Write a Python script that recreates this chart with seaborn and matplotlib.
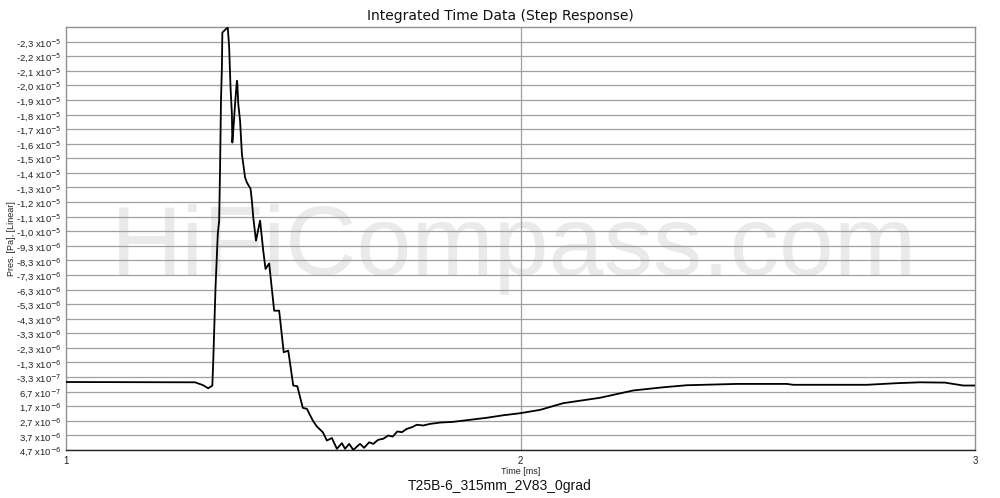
import numpy as np
import pandas as pd
import matplotlib
matplotlib.use("Agg")
import matplotlib.pyplot as plt
import seaborn as sns

# time in ms, pressure in units of 1e-6 Pa (axis is drawn inverted, like the original)
time_ms = [1.000, 1.284, 1.301, 1.313, 1.322, 1.324, 1.329, 1.334, 1.337, 1.339,
           1.340, 1.341, 1.343, 1.344, 1.354, 1.356, 1.359, 1.362, 1.365, 1.366,
           1.368, 1.372, 1.376, 1.377, 1.379, 1.383, 1.387, 1.394, 1.398, 1.406,
           1.409, 1.412, 1.418, 1.427, 1.434, 1.439, 1.447, 1.458, 1.469, 1.479,
           1.489, 1.500, 1.509, 1.521, 1.530, 1.543, 1.552, 1.565, 1.574, 1.585,
           1.596, 1.607, 1.614, 1.623, 1.632, 1.647, 1.656, 1.667, 1.676, 1.687,
           1.698, 1.709, 1.719, 1.729, 1.739, 1.750, 1.761, 1.772, 1.786, 1.801,
           1.823, 1.852, 1.889, 1.926, 1.962, 1.999, 2.043, 2.094, 2.175, 2.248,
           2.314, 2.366, 2.476, 2.586, 2.600, 2.762, 2.828, 2.879, 2.934, 2.974,
           3.000]
pressure = [0.34, 0.36, 0.55, 0.77, 0.58, -1.13, -6.15, -9.83, -10.72, -14.37,
            -16.66, -18.94, -21.22, -23.62, -23.92, -23.94, -22.59, -19.85, -18.05, -16.08,
            -16.88, -18.73, -20.31, -20.10, -18.73, -17.57, -15.31, -13.68, -13.34, -12.91,
            -12.09, -10.95, -9.35, -10.72, -8.66, -7.41, -7.79, -4.55, -4.55, -1.70,
            -1.81, 0.58, 0.63, 2.11, 2.18, 2.98, 3.39, 3.78, 4.35, 4.18,
            4.92, 4.53, 4.92, 4.58, 4.99, 4.58, 4.85, 4.47, 4.58, 4.30,
            4.23, 4.01, 4.08, 3.73, 3.78, 3.55, 3.44, 3.27, 3.32, 3.21,
            3.12, 3.07, 2.93, 2.79, 2.62, 2.48, 2.25, 1.79, 1.42, 0.92,
            0.70, 0.56, 0.47, 0.47, 0.53, 0.53, 0.42, 0.36, 0.38, 0.58,
            0.58]

y_ticks = list(range(-23, 6))
y_mant = ["-2,3", "-2,2", "-2,1", "-2,0", "-1,9", "-1,8", "-1,7", "-1,6", "-1,5",
          "-1,4", "-1,3", "-1,2", "-1,1", "-1,0", "-9,3", "-8,3", "-7,3", "-6,3",
          "-5,3", "-4,3", "-3,3", "-2,3", "-1,3", "-3,3", "6,7", "1,7", "2,7",
          "3,7", "4,7"]
y_exp = ["-5"] * 14 + ["-6"] * 9 + ["-7", "-7"] + ["-6"] * 4
x_ticks = [1, 2, 3]

df = pd.DataFrame({"t": time_ms, "p": pressure})

sns.set_style("white")
plt.rcParams["font.family"] = ["Liberation Sans", "DejaVu Sans"]

fig = plt.figure(figsize=(10, 4.98), dpi=100)
ax = fig.add_axes([0.066, 0.0964, 0.909, 0.8494])

# watermark
ax.text(0.493, 0.475, "HiFiCompass.com", transform=ax.transAxes, ha="center", va="center",
        fontsize=71, color="#eaeaea", zorder=0)

sns.lineplot(data=df, x="t", y="p", ax=ax, color="black", linewidth=1.3, zorder=3)

ax.set_xlim(1, 3)
ax.set_ylim(5, -24)
ax.set_yticks(y_ticks)
ax.set_yticklabels([f"{m} x10$^{{{e}}}$" for m, e in zip(y_mant, y_exp)], fontsize=6.8, color="#222222")
ax.set_xticks(x_ticks)
ax.set_xticklabels([str(x) for x in x_ticks], fontsize=7, color="#222222")
ax.tick_params(axis="y", length=0, pad=3)
ax.tick_params(axis="x", length=3, pad=1, color="#555555")

for v in y_ticks:
    ax.axhline(v, color="#a0a0a0", linewidth=0.9, zorder=1)
ax.axvline(2, color="#a0a0a0", linewidth=0.9, zorder=1)

for s in ["top", "right", "left"]:
    ax.spines[s].set_color("#909090")
    ax.spines[s].set_linewidth(1.0)
ax.spines["bottom"].set_color("#222222")
ax.spines["bottom"].set_linewidth(1.0)

ax.set_xlabel("Time [ms]", fontsize=6.5, labelpad=1, color="#222222")
ax.set_ylabel("Pres. [Pa], [Linear]", fontsize=6.5, labelpad=4, color="#222222")
ax.yaxis.set_label_coords(-0.055, 0.5)

fig.text(0.5, 0.968, "Integrated Time Data (Step Response)", ha="center", va="center",
         fontsize=10, color="#111111", family=["DejaVu Sans"])
fig.text(0.5, 0.025, "T25B-6_315mm_2V83_0grad", ha="center", va="center",
         fontsize=10, color="#111111")

fig.savefig("out.png", dpi=100)
